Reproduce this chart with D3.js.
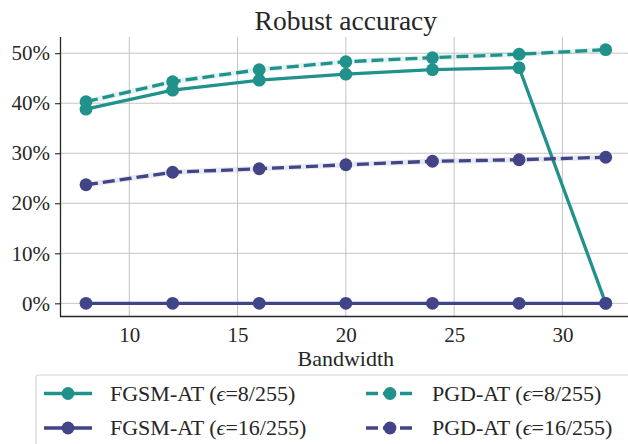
<!DOCTYPE html>
<html>
<head>
<meta charset="utf-8">
<script src="https://cdn.jsdelivr.net/npm/d3@7"></script>
<style>
  body { margin: 0; background: #fff; }
  text { font-family: "Liberation Serif", "DejaVu Serif", serif; fill: #262626; }
</style>
</head>
<body>
<svg id="chart" width="628" height="444"></svg>
<script>
// bandwidth values on the x axis
var bandwidth = [8, 12, 16, 20, 24, 28, 32];

// robust accuracy (%) per series
var fgsm8  = [38.8, 42.6, 44.6, 45.8, 46.7, 47.1, 0];
var fgsm16 = [0, 0, 0, 0, 0, 0, 0];
var pgd8   = [40.3, 44.3, 46.7, 48.3, 49.1, 49.8, 50.7];
var pgd16  = [23.7, 26.2, 26.9, 27.7, 28.4, 28.7, 29.2];

var xTicks = [10, 15, 20, 25, 30];
var yTicks = [0, 10, 20, 30, 40, 50];

var teal = "#21918c", navy = "#414487";

var series = [
    {name: "FGSM-AT", eps: "8/255",  values: fgsm8,  color: teal, dashed: false},
    {name: "FGSM-AT", eps: "16/255", values: fgsm16, color: navy, dashed: false},
    {name: "PGD-AT",  eps: "8/255",  values: pgd8,   color: teal, dashed: true},
    {name: "PGD-AT",  eps: "16/255", values: pgd16,  color: navy, dashed: true}
];

var svg = d3.select("#chart"),
    margin = {top: 37, left: 60, bottom: 128},
    height = +svg.attr("height");

var x = d3.scaleLinear()
            .domain([6.8, 33.2])
            .range([margin.left, 631.7]);

var y = d3.scaleLinear()
            .domain([-2.535, 53.235])
            .range([height - margin.bottom, margin.top]);

var dash = "12,5";

/********** Grid **********/
var grid = svg.append("g").attr("class", "grid");

grid.selectAll("line.vx")
    .data(xTicks)
    .enter().append("line")
    .attr("x1", x).attr("x2", x)
    .attr("y1", y.range()[1]).attr("y2", y.range()[0])
    .attr("stroke", "#c4c4c4").attr("stroke-width", 1);

grid.selectAll("line.hy")
    .data(yTicks)
    .enter().append("line")
    .attr("x1", x.range()[0]).attr("x2", 628)
    .attr("y1", y).attr("y2", y)
    .attr("stroke", "#c4c4c4").attr("stroke-width", 1);

/********** Axes **********/
var xAxis = svg.append("g")
    .attr("transform", "translate(0," + y.range()[0] + ")")
    .call(d3.axisBottom(x).tickValues(xTicks).tickSize(0).tickPadding(11));

var yAxis = svg.append("g")
    .attr("transform", "translate(" + x.range()[0] + ",0)")
    .call(d3.axisLeft(y).tickValues(yTicks).tickSize(5).tickPadding(5)
            .tickFormat(function(d) { return d + "%"; }));

[xAxis, yAxis].forEach(function(ax) {
    ax.attr("font-family", null);
    ax.select(".domain").attr("stroke", "#262626").attr("stroke-width", 1.3);
    ax.selectAll(".tick line").attr("stroke", "#262626").attr("stroke-width", 1.1);
    ax.selectAll(".tick text")
        .attr("fill", "#262626")
        .style("font-size", "21px")
        .style("font-family", "'Liberation Serif', serif");
});
xAxis.select(".domain").attr("d", "M" + x.range()[0] + ",0.5H640");
yAxis.select(".domain").attr("d", "M0.5," + y.range()[1] + "V" + (y.range()[0] + 0.5));

svg.append("text")
    .attr("x", 345.8).attr("y", 30)
    .attr("text-anchor", "middle")
    .style("font-size", "27.5px")
    .text("Robust accuracy");

svg.append("text")
    .attr("x", 345.8).attr("y", 366)
    .attr("text-anchor", "middle")
    .style("font-size", "22px")
    .text("Bandwidth");

/********** Lines **********/
var line = d3.line()
    .x(function(d, i) { return x(bandwidth[i]); })
    .y(function(d) { return y(d); });

var plot = svg.append("g");

series.forEach(function(s) {
    var g = plot.append("g");
    if (s.dashed) {
        // light halo behind the dashes
        g.append("path")
            .attr("d", line(s.values))
            .attr("fill", "none")
            .attr("stroke", s.color)
            .attr("stroke-opacity", 0.12)
            .attr("stroke-width", 5.5);
    }
    g.append("path")
        .attr("d", line(s.values))
        .attr("fill", "none")
        .attr("stroke", s.color)
        .attr("stroke-width", 3.3)
        .attr("stroke-dasharray", s.dashed ? dash : null);
    g.selectAll("circle")
        .data(s.values)
        .enter().append("circle")
        .attr("cx", function(d, i) { return x(bandwidth[i]); })
        .attr("cy", y)
        .attr("r", 6.4)
        .attr("fill", s.color);
});

/********** Legend **********/
var legend = svg.append("g").attr("class", "legend");

legend.append("rect")
    .attr("x", 36).attr("y", 375)
    .attr("width", 610).attr("height", 90)
    .attr("rx", 3)
    .attr("fill", "#fff")
    .attr("stroke", "#d4d4d4")
    .attr("stroke-width", 1.2);

// matplotlib fills the legend column-wise
var colX = [44, 366], rowY = [393.5, 428];

series.forEach(function(s, i) {
    var cx = colX[Math.floor(i / 2)], cy = rowY[i % 2];
    var item = legend.append("g");
    item.append("line")
        .attr("x1", cx).attr("x2", cx + 48)
        .attr("y1", cy).attr("y2", cy)
        .attr("stroke", s.color)
        .attr("stroke-width", 3.3)
        .attr("stroke-dasharray", s.dashed ? dash : null);
    item.append("circle")
        .attr("cx", cx + 24).attr("cy", cy)
        .attr("r", 6.4)
        .attr("fill", s.color);
    var t = item.append("text")
        .attr("x", cx + 66).attr("y", cy + 7)
        .style("font-size", "22px");
    t.append("tspan").text(s.name + " (");
    t.append("tspan").style("font-style", "italic").text("\u03f5");
    t.append("tspan").text("=" + s.eps + ")");
});
</script>
</body>
</html>
